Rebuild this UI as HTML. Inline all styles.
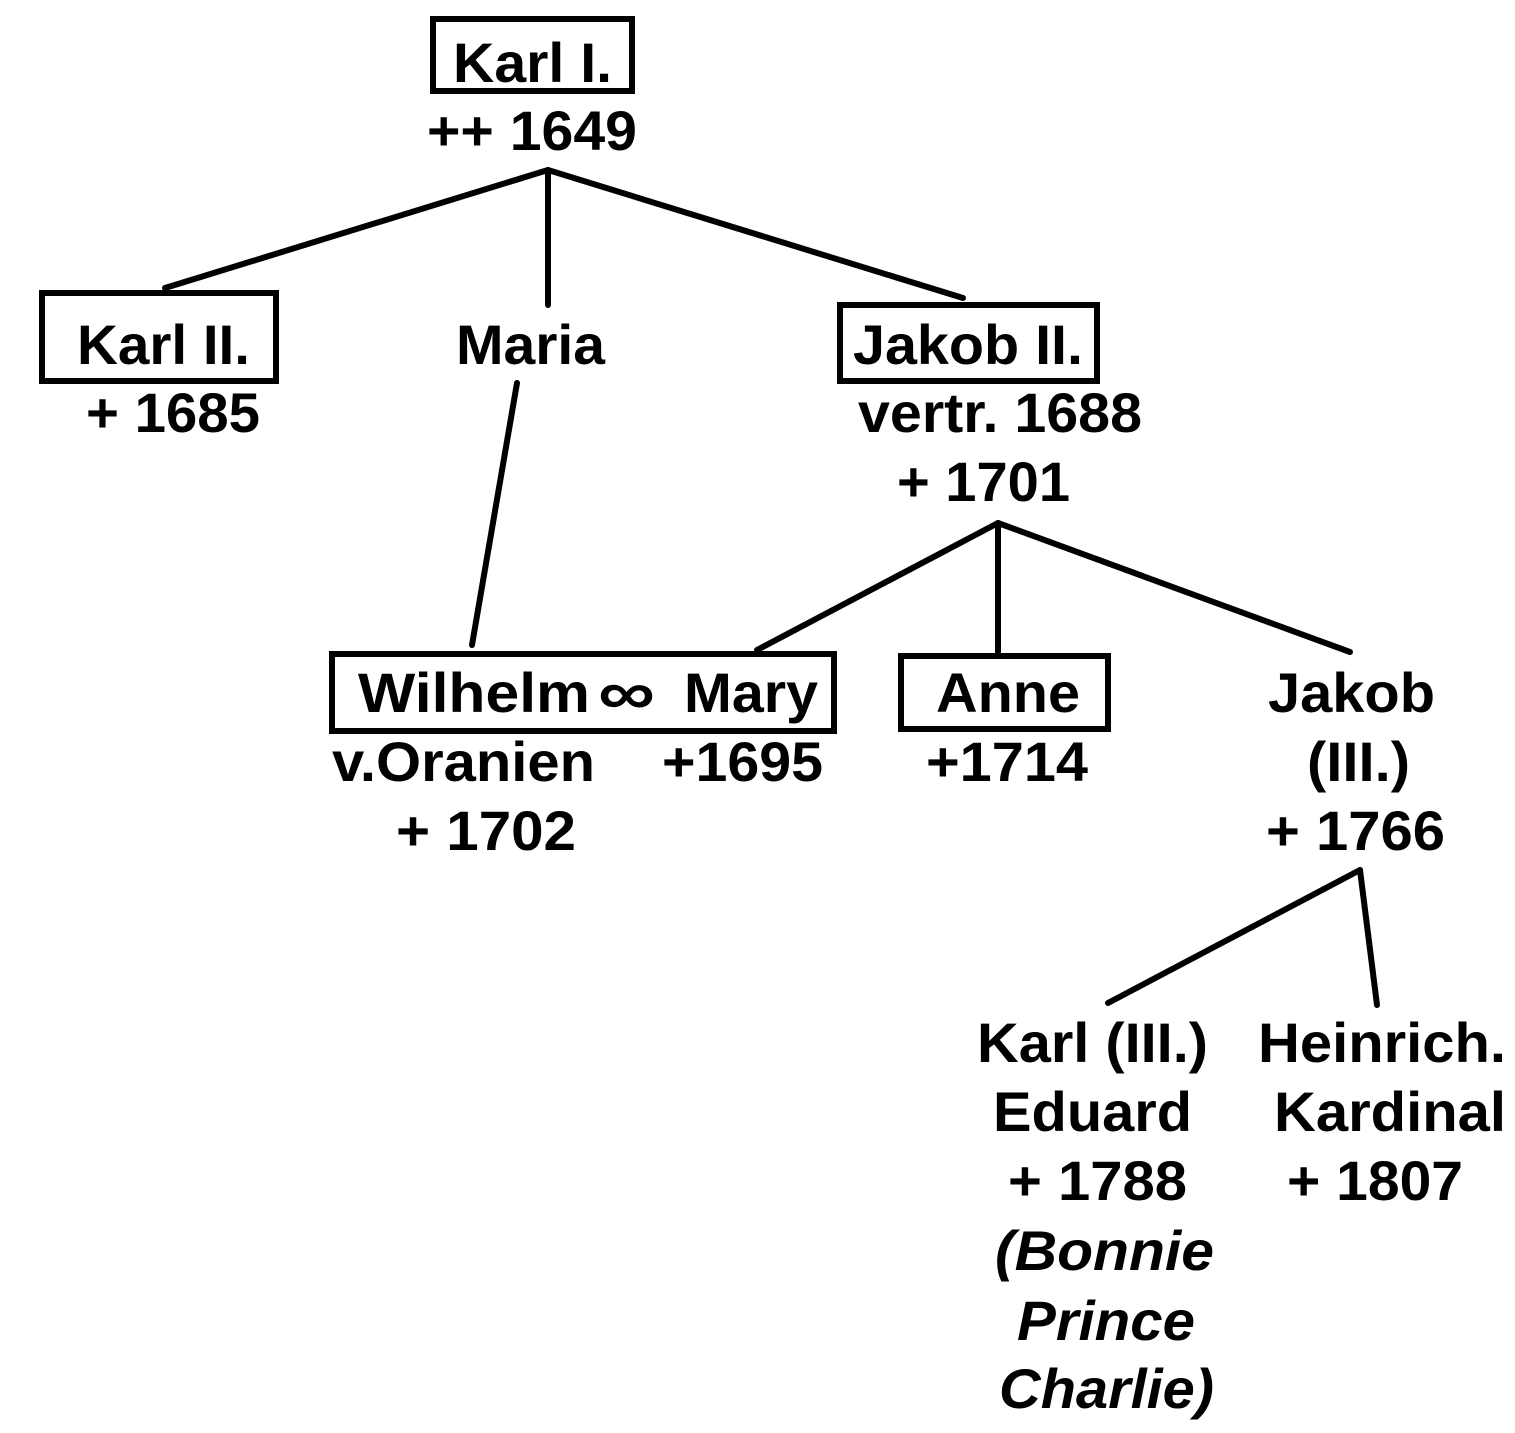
<!DOCTYPE html>
<html><head><meta charset="utf-8"><style>
html,body{margin:0;padding:0;background:#fff;}
svg{display:block;}
text{font-family:"Liberation Sans",Arial,sans-serif;font-weight:bold;font-size:56px;fill:#000;}
.i{font-style:italic;}
</style></head><body>
<svg width="1515" height="1433" viewBox="0 0 1515 1433" xmlns="http://www.w3.org/2000/svg">
<g fill="none" stroke="#000" stroke-width="6" stroke-linecap="round">
<rect x="433" y="19" width="199" height="72"/>
<rect x="42" y="293" width="234" height="88"/>
<rect x="840" y="305" width="257" height="76"/>
<rect x="332" y="654" width="502" height="77"/>
<rect x="901" y="656" width="207" height="73"/>
<line x1="548" y1="170" x2="165" y2="288"/>
<line x1="548" y1="170" x2="548" y2="305"/>
<line x1="548" y1="170" x2="963" y2="298"/>
<line x1="517" y1="383" x2="472" y2="645"/>
<line x1="998" y1="523" x2="757" y2="650"/>
<line x1="998" y1="523" x2="998" y2="655"/>
<line x1="998" y1="523" x2="1350" y2="652"/>
<line x1="1360" y1="870" x2="1108" y2="1003"/>
<line x1="1360" y1="870" x2="1377" y2="1005"/>
</g>
<text x="453" y="82" textLength="159" lengthAdjust="spacingAndGlyphs">Karl I.</text>
<text x="427" y="150" textLength="210" lengthAdjust="spacingAndGlyphs">++ 1649</text>
<text x="77" y="364" textLength="173" lengthAdjust="spacingAndGlyphs">Karl II.</text>
<text x="86" y="432" textLength="174" lengthAdjust="spacingAndGlyphs">+ 1685</text>
<text x="456" y="364" textLength="149" lengthAdjust="spacingAndGlyphs">Maria</text>
<text x="853" y="364" textLength="230" lengthAdjust="spacingAndGlyphs">Jakob II.</text>
<text x="858" y="432" textLength="284" lengthAdjust="spacingAndGlyphs">vertr. 1688</text>
<text x="897" y="501" textLength="173" lengthAdjust="spacingAndGlyphs">+ 1701</text>
<text x="358" y="712" textLength="232" lengthAdjust="spacingAndGlyphs">Wilhelm</text>
<text x="598" y="714" style="font-size:62px" textLength="57" lengthAdjust="spacingAndGlyphs">∞</text>
<text x="684" y="712" textLength="134" lengthAdjust="spacingAndGlyphs">Mary</text>
<text x="332" y="781" textLength="263" lengthAdjust="spacingAndGlyphs">v.Oranien</text>
<text x="662" y="781" textLength="161" lengthAdjust="spacingAndGlyphs">+1695</text>
<text x="396" y="850" textLength="180" lengthAdjust="spacingAndGlyphs">+ 1702</text>
<text x="936" y="712" textLength="144" lengthAdjust="spacingAndGlyphs">Anne</text>
<text x="926" y="781" textLength="162" lengthAdjust="spacingAndGlyphs">+1714</text>
<text x="1268" y="712" textLength="167" lengthAdjust="spacingAndGlyphs">Jakob</text>
<text x="1307" y="781" textLength="103" lengthAdjust="spacingAndGlyphs">(III.)</text>
<text x="1266" y="850" textLength="179" lengthAdjust="spacingAndGlyphs">+ 1766</text>
<text x="977" y="1062" textLength="231" lengthAdjust="spacingAndGlyphs">Karl (III.)</text>
<text x="993" y="1131" textLength="199" lengthAdjust="spacingAndGlyphs">Eduard</text>
<text x="1008" y="1200" textLength="179" lengthAdjust="spacingAndGlyphs">+ 1788</text>
<text class="i" x="995" y="1270" textLength="219" lengthAdjust="spacingAndGlyphs">(Bonnie</text>
<text class="i" x="1017" y="1340" textLength="178" lengthAdjust="spacingAndGlyphs">Prince</text>
<text class="i" x="999" y="1408" textLength="215" lengthAdjust="spacingAndGlyphs">Charlie)</text>
<text x="1258" y="1062" textLength="248" lengthAdjust="spacingAndGlyphs">Heinrich.</text>
<text x="1274" y="1131" textLength="232" lengthAdjust="spacingAndGlyphs">Kardinal</text>
<text x="1287" y="1200" textLength="176" lengthAdjust="spacingAndGlyphs">+ 1807</text>
</svg>
</body></html>
